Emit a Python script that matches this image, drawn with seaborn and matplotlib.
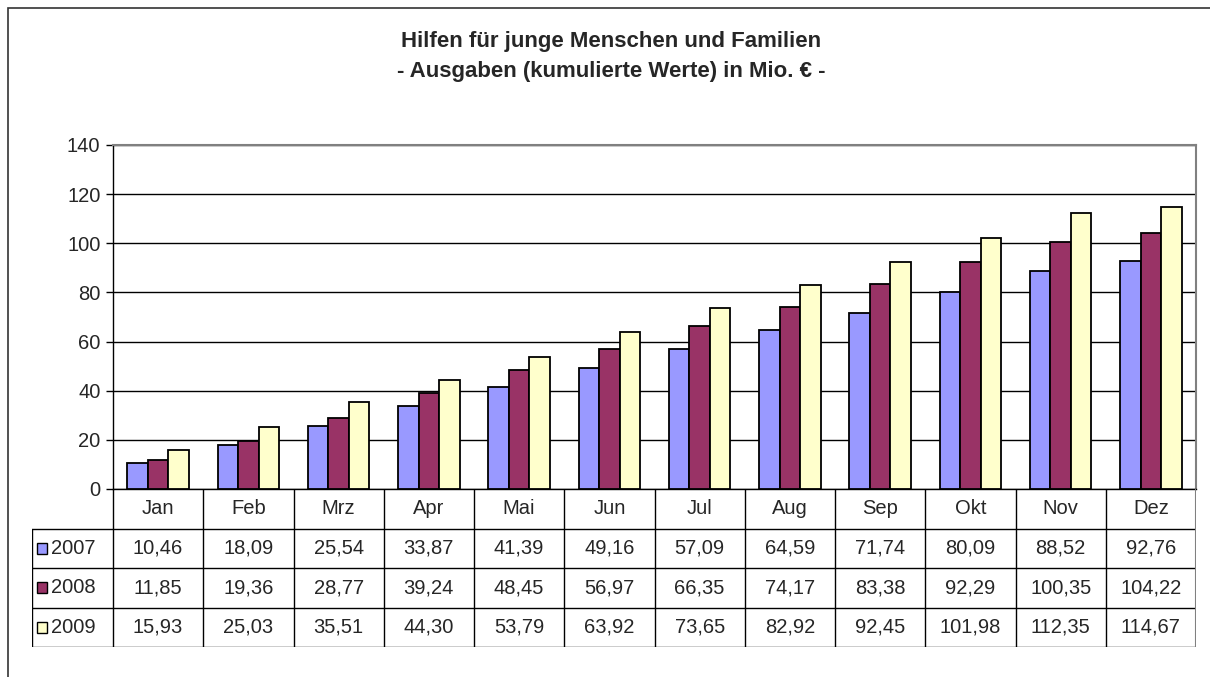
import pandas as pd
import seaborn as sns
import matplotlib.pyplot as plt
from matplotlib.patches import Rectangle

# Data
months = ['Jan', 'Feb', 'Mrz', 'Apr', 'Mai', 'Jun', 'Jul', 'Aug', 'Sep', 'Okt', 'Nov', 'Dez']
years = ['2007', '2008', '2009']
v2007 = [10.46, 18.09, 25.54, 33.87, 41.39, 49.16, 57.09, 64.59, 71.74, 80.09, 88.52, 92.76]
v2008 = [11.85, 19.36, 28.77, 39.24, 48.45, 56.97, 66.35, 74.17, 83.38, 92.29, 100.35, 104.22]
v2009 = [15.93, 25.03, 35.51, 44.30, 53.79, 63.92, 73.65, 82.92, 92.45, 101.98, 112.35, 114.67]
colors = ['#9999FF', '#993366', '#FFFFCC']

series = {'2007': v2007, '2008': v2008, '2009': v2009}
df = pd.DataFrame([(m, y, series[y][i]) for y in years for i, m in enumerate(months)],
                  columns=['Monat', 'Jahr', 'Wert'])

sns.set_style('white')
plt.rcParams['font.family'] = ['Liberation Sans', 'DejaVu Sans']
FS = 14.5

W, H = 1210, 677
fig = plt.figure(figsize=(W / 100, H / 100), dpi=100)

# outer chart border (left/top visible)
fig.patches.append(Rectangle((8 / W, -0.05), 1.2, 1 - 8 / H + 0.05, transform=fig.transFigure,
                             fill=False, edgecolor='#333333', linewidth=1.2))

fig.text(611 / W, 1 - 42 / H, 'Hilfen für junge Menschen und Familien', ha='center', va='center',
         fontsize=16, fontweight='bold')
fig.text(611 / W, 1 - 72 / H, '- Ausgaben (kumulierte Werte) in Mio. € -', ha='center', va='center',
         fontsize=16, fontweight='bold')

left, right, top, bottom = 113, 1196, 145, 489
ax = fig.add_axes([left / W, 1 - bottom / H, (right - left) / W, (bottom - top) / H])
sns.barplot(data=df, x='Monat', y='Wert', hue='Jahr', palette=colors, width=0.68,
            edgecolor='black', linewidth=1.3, saturation=1, legend=False, ax=ax, zorder=3)
ax.set_ylim(0, 140)
ax.set_xlim(-0.5, 11.5)
ax.set_yticks(range(0, 141, 20))
ax.set_yticklabels([str(t) for t in range(0, 141, 20)], fontsize=FS)
ax.yaxis.grid(True, color='black', linewidth=1)
ax.set_axisbelow(True)
ax.set_xticks([])
ax.set_xlabel('')
ax.set_ylabel('')
ax.tick_params(axis='y', left=True, length=5, width=1, color='black', pad=4)
for s in ['top', 'right']:
    ax.spines[s].set_color('#808080')
    ax.spines[s].set_linewidth(1.5)
ax.spines['left'].set_color('black')
ax.spines['bottom'].set_color('black')
ax.spines['left'].set_linewidth(1)
ax.spines['bottom'].set_linewidth(1)

# data table below the plot
tleft, tbottom = 32, 647
slot = (right - left) / 12
x0 = -0.5 - (left - tleft) / slot
tax = fig.add_axes([tleft / W, 1 - tbottom / H, (right - tleft) / W, (tbottom - bottom) / H])
tax.set_xlim(x0, 11.5)
tax.set_ylim(4, 0)
tax.axis('off')

lw = 1
for r in range(1, 5):
    tax.plot([x0, 11.5], [r, r], color='black', lw=lw)
for i in range(12):
    tax.plot([i - 0.5, i - 0.5], [0, 4], color='black', lw=lw)
tax.plot([11.5, 11.5], [0, 4], color='#808080', lw=1.5)
tax.plot([x0, x0], [1, 4], color='black', lw=lw)

for i, m in enumerate(months):
    tax.text(i, 0.5, m, ha='center', va='center', fontsize=FS)
for r, (y, c) in enumerate(zip(years, colors), start=1):
    sq = (48 - 38) / slot
    tax.add_patch(Rectangle((x0 + (37 - tleft) / slot, r + 0.5 - 0.14), sq, 0.28,
                            facecolor=c, edgecolor='black', lw=1))
    tax.text(x0 + (51 - tleft) / slot, r + 0.5, y, ha='left', va='center', fontsize=FS)
    for i, v in enumerate(series[y]):
        tax.text(i, r + 0.5, f'{v:.2f}'.replace('.', ','), ha='center', va='center', fontsize=FS)

fig.savefig('out.png', dpi=100)
